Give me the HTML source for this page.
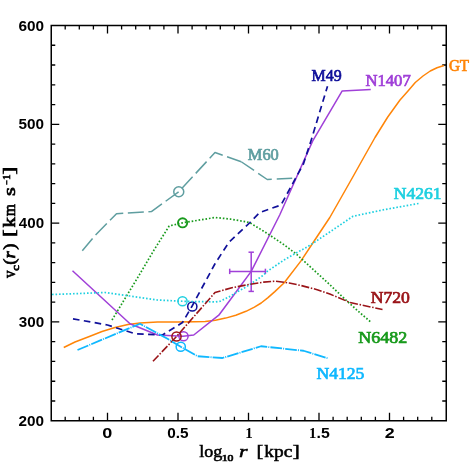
<!DOCTYPE html>
<html><head><meta charset="utf-8"><title>v_c(r)</title>
<style>
html,body{margin:0;padding:0;background:#fff;}
body{width:471px;height:471px;overflow:hidden;font-family:"Liberation Sans",sans-serif;}
svg{display:block;will-change:transform;}
text{white-space:pre;font-kerning:none;}
</style></head><body>
<svg width="471" height="471" viewBox="0 0 471 471">
<rect x="0" y="0" width="471" height="471" fill="#fff"/>
<path d="M65.20 420.75 v-4 M65.20 25.5 v4 M79.30 420.75 v-4 M79.30 25.5 v4 M93.40 420.75 v-4 M93.40 25.5 v4 M107.50 420.75 v-8 M107.50 25.5 v8 M121.60 420.75 v-4 M121.60 25.5 v4 M135.70 420.75 v-4 M135.70 25.5 v4 M149.80 420.75 v-4 M149.80 25.5 v4 M163.90 420.75 v-4 M163.90 25.5 v4 M178.00 420.75 v-8 M178.00 25.5 v8 M192.10 420.75 v-4 M192.10 25.5 v4 M206.20 420.75 v-4 M206.20 25.5 v4 M220.30 420.75 v-4 M220.30 25.5 v4 M234.40 420.75 v-4 M234.40 25.5 v4 M248.50 420.75 v-8 M248.50 25.5 v8 M262.60 420.75 v-4 M262.60 25.5 v4 M276.70 420.75 v-4 M276.70 25.5 v4 M290.80 420.75 v-4 M290.80 25.5 v4 M304.90 420.75 v-4 M304.90 25.5 v4 M319.00 420.75 v-8 M319.00 25.5 v8 M333.10 420.75 v-4 M333.10 25.5 v4 M347.20 420.75 v-4 M347.20 25.5 v4 M361.30 420.75 v-4 M361.30 25.5 v4 M375.40 420.75 v-4 M375.40 25.5 v4 M389.50 420.75 v-8 M389.50 25.5 v8 M403.60 420.75 v-4 M403.60 25.5 v4 M417.70 420.75 v-4 M417.70 25.5 v4 M431.80 420.75 v-4 M431.80 25.5 v4 M51.25 400.99 h4 M446.25 400.99 h-4 M51.25 381.23 h4 M446.25 381.23 h-4 M51.25 361.46 h4 M446.25 361.46 h-4 M51.25 341.70 h4 M446.25 341.70 h-4 M51.25 321.94 h8 M446.25 321.94 h-8 M51.25 302.18 h4 M446.25 302.18 h-4 M51.25 282.41 h4 M446.25 282.41 h-4 M51.25 262.65 h4 M446.25 262.65 h-4 M51.25 242.89 h4 M446.25 242.89 h-4 M51.25 223.12 h8 M446.25 223.12 h-8 M51.25 203.36 h4 M446.25 203.36 h-4 M51.25 183.60 h4 M446.25 183.60 h-4 M51.25 163.84 h4 M446.25 163.84 h-4 M51.25 144.07 h4 M446.25 144.07 h-4 M51.25 124.31 h8 M446.25 124.31 h-8 M51.25 104.55 h4 M446.25 104.55 h-4 M51.25 84.79 h4 M446.25 84.79 h-4 M51.25 65.02 h4 M446.25 65.02 h-4 M51.25 45.26 h4 M446.25 45.26 h-4" stroke="#000" stroke-width="1.3" fill="none"/>
<rect x="51.25" y="25.5" width="395.0" height="395.25" fill="none" stroke="#000" stroke-width="1.5"/>
<path d="M63.75 347.50 L75.00 342.00 L90.00 336.25 L102.00 331.50 L115.00 327.50 L128.00 324.50 L140.00 323.00 L157.50 322.00 L177.50 322.00 L195.00 321.70 L205.20 321.50 L215.40 320.30 L225.60 318.10 L235.80 315.20 L246.00 311.30 L254.40 307.10 L261.20 303.00 L268.00 297.60 L274.80 291.60 L284.00 283.00 L301.00 260.90 L314.50 240.50 L329.80 217.50 L339.75 200.00 L352.50 177.50 L364.00 157.00 L375.00 137.50 L387.75 117.00 L400.00 100.00 L408.00 91.00 L415.25 82.50 L423.00 76.00 L430.25 71.00 L437.00 67.80 L444.00 65.50" fill="none" stroke="#ff8508" stroke-width="1.5" stroke-linecap="butt" stroke-linejoin="round"/>
<path d="M72.50 270.75 L130.00 323.75 L157.50 335.00 L183.00 336.25 L193.75 335.00 L218.80 315.20 L237.50 290.00 L251.20 271.40 L279.70 215.00 L312.60 141.10 L342.20 90.90 L370.75 89.50" fill="none" stroke="#a040d8" stroke-width="1.5" stroke-linecap="butt" stroke-linejoin="round"/>
<circle cx="183.5" cy="336.25" r="4.6" fill="none" stroke="#a040d8" stroke-width="1.5"/>
<path d="M229.70 271.40 L265.40 271.40" fill="none" stroke="#a040d8" stroke-width="1.5" stroke-linecap="butt" stroke-linejoin="round"/>
<path d="M251.20 252.20 L251.20 291.40" fill="none" stroke="#a040d8" stroke-width="1.5" stroke-linecap="butt" stroke-linejoin="round"/>
<path d="M248.50 252.20 L253.90 252.20" fill="none" stroke="#a040d8" stroke-width="1.5" stroke-linecap="butt" stroke-linejoin="round"/>
<path d="M248.50 291.40 L253.90 291.40" fill="none" stroke="#a040d8" stroke-width="1.5" stroke-linecap="butt" stroke-linejoin="round"/>
<path d="M229.70 268.70 L229.70 274.10" fill="none" stroke="#a040d8" stroke-width="1.5" stroke-linecap="butt" stroke-linejoin="round"/>
<path d="M265.40 268.70 L265.40 274.10" fill="none" stroke="#a040d8" stroke-width="1.5" stroke-linecap="butt" stroke-linejoin="round"/>
<path d="M82.30 250.70 L95.00 235.50 L116.50 213.70 L151.40 211.60 L178.75 191.75 L215.00 152.50 L241.25 161.75" fill="none" stroke="#5f9ea0" stroke-width="1.5" stroke-linecap="butt" stroke-linejoin="round" stroke-dasharray="16 4.6" stroke-dashoffset="0"/>
<path d="M241.25 161.75 L267.25 179.50 L292.25 178.25" fill="none" stroke="#5f9ea0" stroke-width="1.5" stroke-linecap="butt" stroke-linejoin="round" stroke-dasharray="15.5 5" stroke-dashoffset="0"/>
<circle cx="178.75" cy="191.75" r="5" fill="none" stroke="#5f9ea0" stroke-width="1.5"/>
<path d="M112.00 320.00 L140.00 273.75 L154.00 250.00 L169.20 226.00 L182.60 222.80 L215.00 217.50 L230.60 219.10 L245.90 221.80 L250.00 222.80 L267.00 233.30 L284.00 244.70 L295.90 253.70 L309.40 266.00 L329.80 284.70 L345.20 299.40 L360.50 313.30 L370.50 321.75" fill="none" stroke="#189a1c" stroke-width="1.7" stroke-linecap="butt" stroke-linejoin="round" stroke-dasharray="1.6 1.9" stroke-dashoffset="0"/>
<circle cx="182.6" cy="222.8" r="4.6" fill="none" stroke="#189a1c" stroke-width="1.9"/>
<path d="M73.00 318.80 L107.50 325.00 L135.00 333.75 L162.50 335.00 L182.50 322.50 L192.00 306.25 L215.00 263.75 L228.75 242.50 L250.00 222.50 L259.75 212.50 L281.00 205.00 L303.50 163.75 L311.25 140.00 L327.50 86.25" fill="none" stroke="#10109a" stroke-width="1.7" stroke-linecap="butt" stroke-linejoin="round" stroke-dasharray="6.6 4.4" stroke-dashoffset="0"/>
<circle cx="192.3" cy="306.5" r="4.6" fill="none" stroke="#10109a" stroke-width="1.5"/>
<path d="M52.00 294.50 L80.00 293.50 L105.00 292.50 L130.00 296.00 L157.50 300.00 L182.50 301.25 L195.00 301.60 L205.20 301.60 L215.40 302.00 L220.50 301.10 L229.00 296.90 L237.50 291.80 L246.00 287.00 L253.10 282.30 L263.70 275.00 L267.00 271.50 L284.00 260.00 L295.90 253.20 L309.40 245.60 L329.80 232.00 L353.00 216.25 L385.00 209.50 L418.50 203.50" fill="none" stroke="#20d0e0" stroke-width="1.7" stroke-linecap="butt" stroke-linejoin="round" stroke-dasharray="1.6 1.9" stroke-dashoffset="0"/>
<circle cx="182.5" cy="301.25" r="4.6" fill="none" stroke="#20d0e0" stroke-width="1.5"/>
<path d="M153.00 361.25 L176.50 336.50 L215.00 292.50 L231.80 287.80 L250.00 284.30 L263.60 282.10 L275.50 281.20 L289.10 283.00 L301.00 285.50 L318.00 289.90 L329.80 294.00 L350.00 302.50 L382.50 309.50" fill="none" stroke="#9a1418" stroke-width="1.6" stroke-linecap="butt" stroke-linejoin="round" stroke-dasharray="8 1.7 1.5 1.7" stroke-dashoffset="0"/>
<circle cx="176.5" cy="336.5" r="4.6" fill="none" stroke="#9a1418" stroke-width="1.5"/>
<path d="M77.50 350.00 L140.00 323.75 L167.50 338.75 L180.75 346.75 L197.50 356.25 L222.50 358.00 L261.00 346.25 L303.50 350.75 L327.50 358.25" fill="none" stroke="#10b8ff" stroke-width="1.8" stroke-linecap="butt" stroke-linejoin="round" stroke-dasharray="11.7 1.1 1 1.1" stroke-dashoffset="0"/>
<circle cx="180.75" cy="346.75" r="4.6" fill="none" stroke="#10b8ff" stroke-width="1.5"/>
<text x="311.54" y="81.0" fill="#10109a" font-family="Liberation Serif" font-weight="normal" stroke="#10109a" stroke-width="0.7" font-size="16.5" textLength="30.11" lengthAdjust="spacingAndGlyphs">M49</text>
<text x="365.52" y="85.5" fill="#a040d8" font-family="Liberation Serif" font-weight="normal" stroke="#a040d8" stroke-width="0.7" font-size="16.5" textLength="45.21" lengthAdjust="spacingAndGlyphs">N1407</text>
<text x="448.88" y="70.75" fill="#ff8508" font-family="Liberation Serif" font-weight="normal" stroke="#ff8508" stroke-width="0.7" font-size="16.5" textLength="20.17" lengthAdjust="spacingAndGlyphs">GT</text>
<text x="247.83" y="160.0" fill="#5f9ea0" font-family="Liberation Serif" font-weight="normal" stroke="#5f9ea0" stroke-width="0.7" font-size="16.5" textLength="31.00" lengthAdjust="spacingAndGlyphs">M60</text>
<text x="393.74" y="199.25" fill="#20d0e0" font-family="Liberation Serif" font-weight="normal" stroke="#20d0e0" stroke-width="0.7" font-size="16.5" textLength="47.81" lengthAdjust="spacingAndGlyphs">N4261</text>
<text x="370.74" y="303.0" fill="#9a1418" font-family="Liberation Serif" font-weight="normal" stroke="#9a1418" stroke-width="0.7" font-size="16.5" textLength="39.18" lengthAdjust="spacingAndGlyphs">N720</text>
<text x="358.23" y="342.5" fill="#189a1c" font-family="Liberation Serif" font-weight="normal" stroke="#189a1c" stroke-width="0.7" font-size="16.5" textLength="49.01" lengthAdjust="spacingAndGlyphs">N6482</text>
<text x="316.49" y="378.5" fill="#10b8ff" font-family="Liberation Serif" font-weight="normal" stroke="#10b8ff" stroke-width="0.7" font-size="16.5" textLength="47.95" lengthAdjust="spacingAndGlyphs">N4125</text>
<text x="18.54" y="30.6" fill="#000" font-family="Liberation Sans" font-weight="bold" font-size="13.8" textLength="25.59" lengthAdjust="spacingAndGlyphs">600</text>
<text x="18.63" y="129.41" fill="#000" font-family="Liberation Sans" font-weight="bold" font-size="13.8" textLength="25.50" lengthAdjust="spacingAndGlyphs">500</text>
<text x="18.87" y="228.22" fill="#000" font-family="Liberation Sans" font-weight="bold" font-size="13.8" textLength="25.25" lengthAdjust="spacingAndGlyphs">400</text>
<text x="18.75" y="327.04" fill="#000" font-family="Liberation Sans" font-weight="bold" font-size="13.8" textLength="25.37" lengthAdjust="spacingAndGlyphs">300</text>
<text x="18.57" y="425.85" fill="#000" font-family="Liberation Sans" font-weight="bold" font-size="13.8" textLength="25.56" lengthAdjust="spacingAndGlyphs">200</text>
<text x="102.38" y="437.8" fill="#000" font-family="Liberation Sans" font-weight="bold" font-size="13.8" textLength="10.06" lengthAdjust="spacingAndGlyphs">0</text>
<text x="167.29" y="437.8" fill="#000" font-family="Liberation Sans" font-weight="bold" font-size="13.8" textLength="21.33" lengthAdjust="spacingAndGlyphs">0.5</text>
<text x="245.30" y="437.8" fill="#000" font-family="Liberation Serif" font-weight="bold" font-size="14" textLength="7.47" lengthAdjust="spacingAndGlyphs">1</text>
<text x="309.13" y="437.8" fill="#000" font-family="Liberation Serif" font-weight="bold" font-size="14" textLength="7.33" lengthAdjust="spacingAndGlyphs">1</text>
<text x="316.62" y="437.8" fill="#000" font-family="Liberation Sans" font-weight="bold" font-size="13.8" textLength="13.22" lengthAdjust="spacingAndGlyphs">.5</text>
<text x="384.83" y="437.8" fill="#000" font-family="Liberation Sans" font-weight="bold" font-size="13.8" textLength="9.93" lengthAdjust="spacingAndGlyphs">2</text>
<text x="199.24" y="457.4" fill="#000" stroke="#000" stroke-width="0.5" font-family="Liberation Serif" font-weight="normal" font-style="normal" font-size="16" textLength="23.00" lengthAdjust="spacingAndGlyphs">log</text>
<text x="221.66" y="461.3" fill="#000" stroke="#000" stroke-width="0.6" font-family="Liberation Serif" font-weight="normal" font-style="normal" font-size="9" textLength="11.78" lengthAdjust="spacingAndGlyphs">10</text>
<text x="239.11" y="457.4" fill="#000" stroke="#000" stroke-width="0.5" font-family="Liberation Serif" font-weight="normal" font-style="italic" font-size="16" textLength="8.52" lengthAdjust="spacingAndGlyphs">r</text>
<text x="256.47" y="457.4" fill="#000" stroke="#000" stroke-width="0.5" font-family="Liberation Serif" font-weight="normal" font-style="normal" font-size="16" textLength="6.88" lengthAdjust="spacingAndGlyphs">[</text>
<text x="264.33" y="457.4" fill="#000" stroke="#000" stroke-width="0.5" font-family="Liberation Serif" font-weight="normal" font-style="normal" font-size="16" textLength="27.96" lengthAdjust="spacingAndGlyphs">kpc</text>
<text x="292.60" y="457.4" fill="#000" stroke="#000" stroke-width="0.5" font-family="Liberation Serif" font-weight="normal" font-style="normal" font-size="16" textLength="7.33" lengthAdjust="spacingAndGlyphs">]</text>
<g transform="translate(14.6 278.3) rotate(-90)">
<text x="0.20" y="0" fill="#000" stroke="#000" stroke-width="0.7" font-family="Liberation Serif" font-weight="normal" font-style="normal" font-size="16" textLength="7.50" lengthAdjust="spacingAndGlyphs">v</text>
<text x="7.61" y="4.4" fill="#000" stroke="#000" stroke-width="0.7" font-family="Liberation Serif" font-weight="normal" font-style="normal" font-size="11" textLength="5.68" lengthAdjust="spacingAndGlyphs">c</text>
<text x="13.58" y="0" fill="#000" stroke="#000" stroke-width="0.7" font-family="Liberation Serif" font-weight="normal" font-style="normal" font-size="16" textLength="6.22" lengthAdjust="spacingAndGlyphs">(</text>
<text x="19.84" y="0" fill="#000" stroke="#000" stroke-width="0.7" font-family="Liberation Serif" font-weight="normal" font-style="italic" font-size="16" textLength="7.31" lengthAdjust="spacingAndGlyphs">r</text>
<text x="28.60" y="0" fill="#000" stroke="#000" stroke-width="0.7" font-family="Liberation Serif" font-weight="normal" font-style="normal" font-size="16" textLength="6.22" lengthAdjust="spacingAndGlyphs">)</text>
<text x="41.20" y="0" fill="#000" stroke="#000" stroke-width="0.7" font-family="Liberation Serif" font-weight="normal" font-style="normal" font-size="16" textLength="7.63" lengthAdjust="spacingAndGlyphs">[</text>
<text x="50.81" y="0" fill="#000" stroke="#000" stroke-width="0.7" font-family="Liberation Serif" font-weight="normal" font-style="normal" font-size="16" textLength="10.29" lengthAdjust="spacingAndGlyphs">k</text>
<text x="62.07" y="0" fill="#000" stroke="#000" stroke-width="0.7" font-family="Liberation Serif" font-weight="normal" font-style="normal" font-size="16" textLength="12.07" lengthAdjust="spacingAndGlyphs">m</text>
<text x="82.27" y="0" fill="#000" stroke="#000" stroke-width="0.7" font-family="Liberation Serif" font-weight="normal" font-style="normal" font-size="16" textLength="8.86" lengthAdjust="spacingAndGlyphs">s</text>
<text x="93.38" y="-4.6" fill="#000" stroke="#000" stroke-width="0.7" font-family="Liberation Serif" font-weight="normal" font-style="normal" font-size="9.5" textLength="4.73" lengthAdjust="spacingAndGlyphs">−</text>
<text x="98.68" y="-4.6" fill="#000" stroke="#000" stroke-width="0.7" font-family="Liberation Serif" font-weight="normal" font-style="normal" font-size="9.5" textLength="5.25" lengthAdjust="spacingAndGlyphs">1</text>
<text x="103.77" y="0" fill="#000" stroke="#000" stroke-width="0.7" font-family="Liberation Serif" font-weight="normal" font-style="normal" font-size="16" textLength="7.63" lengthAdjust="spacingAndGlyphs">]</text>
</g>
</svg>
</body></html>
